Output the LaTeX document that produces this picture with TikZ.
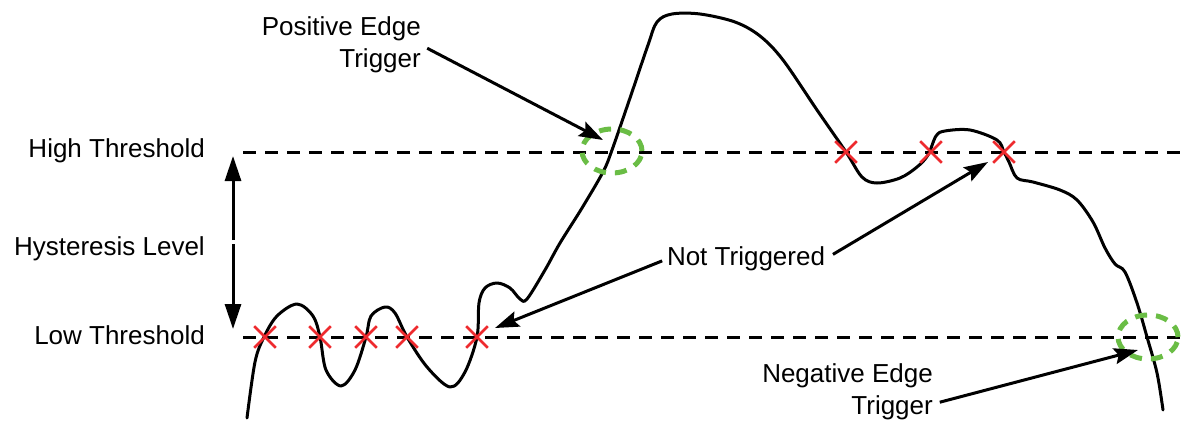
\documentclass[tikz,border=0pt]{standalone}
\usepackage{fontspec}
\setmainfont{Liberation Sans}
\usetikzlibrary{arrows.meta,shapes.geometric,shapes.misc}
\definecolor{trigred}{HTML}{EE2A2E}
\definecolor{triggreen}{HTML}{6ABD45}

\begin{document}
\begin{tikzpicture}[x=1pt,y=-1pt,
  lbl/.style={font=\fontsize{26}{32}\selectfont, inner sep=0pt},
  thresh/.style={line width=3pt, dash pattern=on 13pt off 9pt},
  signal/.style={line width=3pt, line join=round, line cap=round},
  miss/.style={cross out, draw=trigred, line width=2.6pt, minimum size=19pt, inner sep=0pt},
  hit/.style={ellipse, draw=triggreen, line width=5pt, dash pattern=on 12pt off 9pt,
    minimum width=60pt, minimum height=44pt, inner sep=0pt},
  pointer/.style={line width=3pt, -{Stealth[length=24pt,width=16pt,inset=4pt]}},
  span/.style={line width=3pt, -{Triangle[length=25pt,width=16pt]}}]
\useasboundingbox (0,0) rectangle (1182,421);
% Threshold levels
\node[lbl, anchor=base east] (high) at (205,157) {High Threshold};
\node[lbl, anchor=base east] (hyst) at (205,255) {Hysteresis Level};
\node[lbl, anchor=base east] (low) at (205,344) {Low Threshold};
\coordinate (hl-start) at (243,152);
\coordinate (hl-end) at (1180,152);
\coordinate (ll-start) at (243,337);
\coordinate (ll-end) at (1180,337);
\draw[thresh] (hl-start) -- (hl-end);
\draw[thresh] (ll-start) -- (ll-end);
% Hysteresis span
\coordinate (hi-tip) at (233,156);
\coordinate (lo-tip) at (233,329);
\coordinate (gap-top) at (233,240);
\coordinate (gap-bot) at (233,244);
\draw[span] (gap-top) -- (hi-tip);
\draw[span] (gap-bot) -- (lo-tip);
% Signal
\draw[signal] plot[smooth, tension=0.55] coordinates {
  (247,418) (255,362) (264,337) (277,316) (297,304) (313,316) (320,337)
  (326,370) (341,386) (355,370) (366,337) (371,316) (385,307) (395,313)
  (407,337) (427,367) (450,387) (465,372) (477,337) (479,303) (485,288)
  (497,283) (510,288) (520,299) (527,299) (545,270) (560,243) (582,208)
  (603,172) (612,150) (630,98) (648,45) (657,22) (672,14) (700,14)
  (735,22) (760,36) (783,60) (817,110) (846,152) (862,177) (877,183)
  (900,178) (917,167) (928,155) (936,136) (945,131) (970,130) (997,140)
  (1004,152) (1009,162) (1017,178) (1033,182) (1060,190) (1077,200)
  (1093,222) (1105,248) (1115,264) (1125,272) (1137,303) (1147,337)
  (1157,373) (1163,410)};
% Missed crossings
\foreach \x [count=\i] in {265,320,366,407,477}
  \node[miss] (lx\i) at (\x,337) {};
\foreach \x [count=\i] in {846,931,1004}
  \node[miss] (hx\i) at (\x,152) {};
% Trigger points
\node[hit] (posring) at (612,151) {};
\node[hit] (negring) at (1148,337) {};
% Annotations
\node[lbl, align=right, anchor=east] (pos) at (421,45) {Positive Edge\\Trigger};
\node[lbl] (notrig) at (746,259) {Not Triggered};
\node[lbl, align=right, anchor=east] (neg) at (933,392) {Negative Edge\\Trigger};
\coordinate (pos-tip) at (603,140);
\coordinate (nt-tip1) at (495,328);
\coordinate (nt-tip2) at (988,162);
\coordinate (neg-tip) at (1138,350);
\draw[pointer, shorten <=7pt] (pos.east) -- (pos-tip);
\draw[pointer, shorten <=5pt] (notrig.west) -- (nt-tip1);
\draw[pointer, shorten <=9pt] (notrig.east) -- (nt-tip2);
\draw[pointer, shorten <=7pt] ([yshift=-12pt]neg.east) -- (neg-tip);
\end{tikzpicture}
\end{document}
